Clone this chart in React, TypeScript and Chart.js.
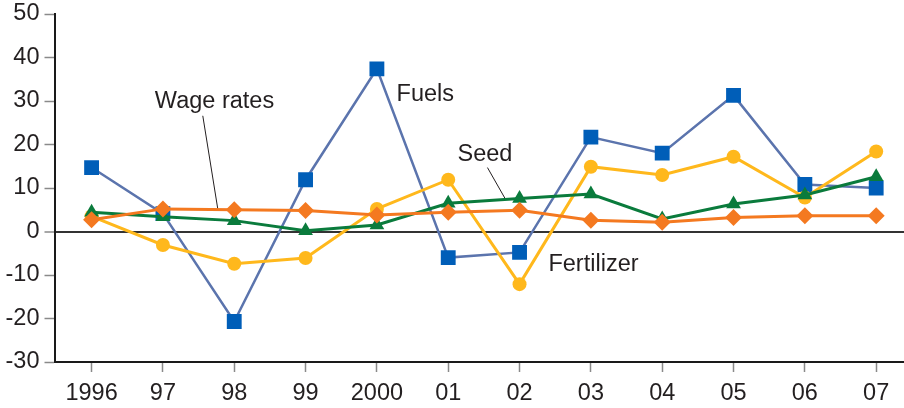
import React, { useEffect, useRef } from 'react';
import { Chart, registerables } from 'chart.js';

Chart.register(...registerables);

const years = ['1996', '97', '98', '99', '2000', '01', '02', '03', '04', '05', '06', '07'];
const fuels = [14.7, 4.1, -20.7, 11.9, 37.4, -6.0, -4.8, 21.7, 18.0, 31.3, 10.8, 10.0];
const fertilizer = [3.5, -3.1, -7.4, -6.1, 5.2, 11.9, -12.1, 14.9, 13.0, 17.2, 7.8, 18.4];
const seed = [4.4, 3.4, 2.5, 0.2, 1.5, 6.5, 7.6, 8.6, 2.9, 6.3, 8.4, 12.6];
const wageRates = [2.7, 5.2, 5.0, 4.8, 3.8, 4.4, 4.9, 2.6, 2.1, 3.2, 3.6, 3.6];
const yMin = -30;
const yMax = 50;
const yStep = 10;

// Series labels, placed in data units (x = category index, y = percent)
const seriesLabels = [
  { text: 'Wage rates', x: 0.887, y: 28.5, leader: [1.559, 26.6, 1.769, 5.2] },
  { text: 'Fuels', x: 4.276, y: 29.9, leader: null },
  { text: 'Seed', x: 5.13, y: 16.3, leader: [5.55, 14.7, 5.8, 7.5] },
  { text: 'Fertilizer', x: 6.405, y: -9.05, leader: null },
];

const FONT = '"Liberation Sans", Arial, sans-serif';

const toXY = (arr: number[]) => arr.map((v, i) => ({ x: i, y: v }));

const labelPlugin = {
  id: 'seriesLabels',
  beforeDatasetsDraw(chart: any) {
    const { ctx } = chart;
    const xs = chart.scales.x;
    const ys = chart.scales.y;
    ctx.save();
    ctx.strokeStyle = '#231f20';
    ctx.lineWidth = 1;
    seriesLabels.forEach((l) => {
      if (!l.leader) return;
      ctx.beginPath();
      ctx.moveTo(xs.getPixelForValue(l.leader[0]), ys.getPixelForValue(l.leader[1]));
      ctx.lineTo(xs.getPixelForValue(l.leader[2]), ys.getPixelForValue(l.leader[3]));
      ctx.stroke();
    });
    ctx.restore();
  },
  afterDatasetsDraw(chart: any) {
    const { ctx } = chart;
    const xs = chart.scales.x;
    const ys = chart.scales.y;
    ctx.save();
    ctx.fillStyle = '#231f20';
    ctx.font = `23.5px ${FONT}`;
    ctx.textAlign = 'left';
    ctx.textBaseline = 'alphabetic';
    seriesLabels.forEach((l) => {
      ctx.fillText(l.text, xs.getPixelForValue(l.x), ys.getPixelForValue(l.y));
    });
    ctx.restore();
  },
};

export default function App() {
  const ref = useRef<HTMLCanvasElement | null>(null);

  useEffect(() => {
    if (!ref.current) return;
    const chart = new Chart(ref.current, {
      type: 'line',
      data: {
        datasets: [
          {
            label: 'Wage rates',
            data: toXY(wageRates),
            borderColor: '#f47920',
            backgroundColor: '#f47920',
            borderWidth: 3,
            pointStyle: 'rectRot',
            pointRadius: 8.5,
            pointBorderWidth: 0,
            tension: 0,
          },
          {
            label: 'Seed',
            data: toXY(seed),
            borderColor: '#0a7b3c',
            backgroundColor: '#0a7b3c',
            borderWidth: 3,
            pointStyle: 'triangle',
            pointRadius: 8.5,
            pointBorderWidth: 0,
            tension: 0,
          },
          {
            label: 'Fertilizer',
            data: toXY(fertilizer),
            borderColor: '#ffb81c',
            backgroundColor: '#ffb81c',
            borderWidth: 3,
            pointStyle: 'circle',
            pointRadius: 7,
            pointBorderWidth: 0,
            tension: 0,
          },
          {
            label: 'Fuels',
            data: toXY(fuels),
            borderColor: '#5b74ad',
            backgroundColor: '#005eb8',
            borderWidth: 2.5,
            pointStyle: 'rect',
            pointRadius: 10.5,
            pointBorderWidth: 0,
            tension: 0,
          },
        ],
      },
      options: {
        responsive: false,
        animation: false,
        events: [],
        layout: { autoPadding: false, padding: { top: 14, right: 0, bottom: 0, left: 0 } },
        plugins: {
          legend: { display: false },
          tooltip: { enabled: false },
        },
        scales: {
          x: {
            type: 'linear',
            min: -0.52,
            max: 11.39,
            afterBuildTicks: (scale: any) => {
              scale.ticks = years.map((_, i) => ({ value: i }));
            },
            afterFit: (scale: any) => {
              scale.height = 46;
              scale.paddingLeft = 0;
              scale.paddingRight = 0;
            },
            ticks: {
              callback: (v: any) => years[v as number] ?? '',
              color: '#231f20',
              font: { family: FONT, size: 23.5 },
              padding: 7,
              maxRotation: 0,
              autoSkip: false,
            },
            grid: {
              drawOnChartArea: false,
              drawTicks: true,
              tickLength: 10,
              tickColor: '#8a8a8a',
              tickWidth: 1.5,
            },
            border: { display: true, color: '#1a1a1a', width: 2 },
          },
          y: {
            type: 'linear',
            min: yMin,
            max: yMax,
            ticks: {
              stepSize: yStep,
              color: '#231f20',
              font: { family: FONT, size: 23.5 },
              padding: 5,
            },
            afterFit: (scale: any) => {
              scale.width = 54.5;
              scale.paddingTop = 0;
              scale.paddingBottom = 0;
            },
            grid: {
              drawOnChartArea: true,
              drawTicks: true,
              tickLength: 10,
              color: (c: any) => (c.tick && c.tick.value === 0 ? '#333333' : 'rgba(0,0,0,0)'),
              lineWidth: (c: any) => (c.tick && c.tick.value === 0 ? 2 : 1),
              tickColor: '#8a8a8a',
              tickWidth: 1.5,
            },
            border: { display: true, color: '#1a1a1a', width: 2 },
          },
        },
      },
      plugins: [labelPlugin],
    } as any);
    return () => chart.destroy();
  }, []);

  return (
    <div style={{ position: 'fixed', left: 0, top: 0, width: 904, height: 408, background: '#fff' }}>
      <canvas ref={ref} width={904} height={408} style={{ display: 'block', width: 904, height: 408 }} />
    </div>
  );
}
